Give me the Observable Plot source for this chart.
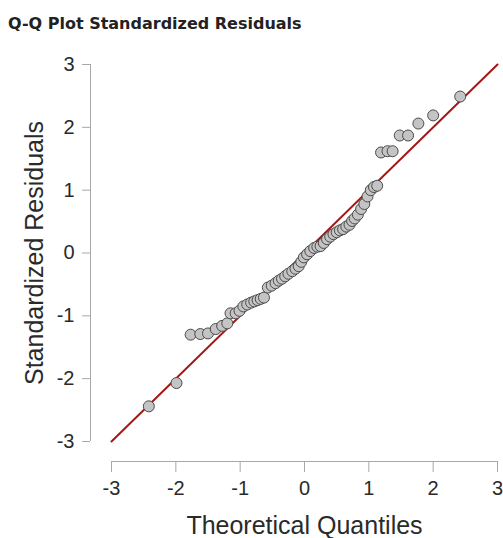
<!DOCTYPE html>
<html>
<head>
<meta charset="utf-8">
<script src="https://cdn.jsdelivr.net/npm/d3@7"></script>
<script src="https://cdn.jsdelivr.net/npm/@observablehq/plot@0.6"></script>
<style>
  body { margin: 0; background: #fff; }
  #title { box-sizing: border-box; height: 36px; padding: 14px 0 0 8px; line-height: 18px;
           font: bold 16px "DejaVu Sans", sans-serif; color: #222; white-space: nowrap; }
</style>
</head>
<body>
<div id="title">Q-Q Plot Standardized Residuals</div>
<div id="chart"></div>
<script>
const titleText = "Q-Q Plot Standardized Residuals";
const xLabel = "Theoretical Quantiles";
const yLabel = "Standardized Residuals";
const xTicks = [-3, -2, -1, 0, 1, 2, 3];
const yTicks = [-3, -2, -1, 0, 1, 2, 3];
const refLineX = [-3, 3];
const refLineY = [-3, 3];
const theoretical = [
  -2.42, -1.99, -1.77, -1.62, -1.50, -1.38, -1.28, -1.20, -1.15, -1.07,
  -1.01, -0.95, -0.89, -0.83, -0.78, -0.73, -0.68, -0.63, -0.57, -0.51,
  -0.45, -0.40, -0.35, -0.30, -0.25, -0.19, -0.14, -0.09, -0.05, -0.01,
  0.04, 0.09, 0.15, 0.20, 0.25, 0.30, 0.35, 0.40, 0.45, 0.50,
  0.55, 0.60, 0.65, 0.70, 0.74, 0.78, 0.83, 0.88, 0.93, 0.98,
  1.03, 1.08, 1.13, 1.19, 1.29, 1.37, 1.48, 1.61, 1.77, 2.00, 2.42
];
const residuals = [
  -2.44, -2.07, -1.30, -1.29, -1.28, -1.21, -1.16, -1.12, -0.96, -0.96,
  -0.92, -0.85, -0.82, -0.79, -0.77, -0.75, -0.73, -0.71, -0.55, -0.52,
  -0.48, -0.44, -0.41, -0.37, -0.33, -0.29, -0.25, -0.21, -0.14, -0.07,
  -0.02, 0.03, 0.08, 0.10, 0.11, 0.16, 0.22, 0.26, 0.30, 0.33,
  0.36, 0.38, 0.42, 0.45, 0.51, 0.55, 0.61, 0.70, 0.78, 0.90,
  1.00, 1.05, 1.07, 1.60, 1.62, 1.62, 1.87, 1.87, 2.06, 2.19, 2.49
];

const points = theoretical.map((x, i) => ({x, y: residuals[i]}));
const refLine = refLineX.map((x, i) => ({x, y: refLineY[i]}));
const axisGray = "#a8a8a8";
const textColor = "#2a2a2a";
const fmt = d => String(d);

const chart = Plot.plot({
  width: 503,
  height: 502,
  marginTop: 28,
  marginBottom: 97,
  marginLeft: 111,
  marginRight: 6,
  style: {fontFamily: "'Liberation Sans', Arial, sans-serif", fontSize: "20px", background: "#fff", overflow: "visible"},
  x: {domain: [-3, 3]},
  y: {domain: [-3, 3]},
  marks: [
    Plot.ruleY([-3], {x1: -3, x2: 3, dy: 20, stroke: axisGray}),
    Plot.ruleX([-3], {y1: -3, y2: 3, dx: -21, stroke: axisGray}),
    Plot.axisX(xTicks, {tickSize: 11, tickPadding: 8, dy: 20, fontSize: 20, stroke: axisGray, fill: textColor, label: null, tickFormat: fmt}),
    Plot.axisY(yTicks, {tickSize: 8, tickPadding: 8, dx: -21, fontSize: 20, stroke: axisGray, fill: textColor, label: null, tickFormat: fmt}),
    Plot.line(refLine, {x: "x", y: "y", stroke: "#a51616", strokeWidth: 2}),
    Plot.dot(points, {x: "x", y: "y", r: 5.5, fill: "#c4c4c4", stroke: "#4a4a4a", strokeWidth: 1}),
    Plot.text([xLabel], {text: d => d, frameAnchor: "bottom", dy: 92, lineAnchor: "bottom", textAnchor: "middle", fontSize: 25, fill: textColor}),
    Plot.text([yLabel], {text: d => d, frameAnchor: "left", dx: -69, rotate: -90, lineAnchor: "bottom", textAnchor: "middle", fontSize: 25, fill: textColor})
  ]
});
document.getElementById("chart").appendChild(chart);
</script>
</body>
</html>
